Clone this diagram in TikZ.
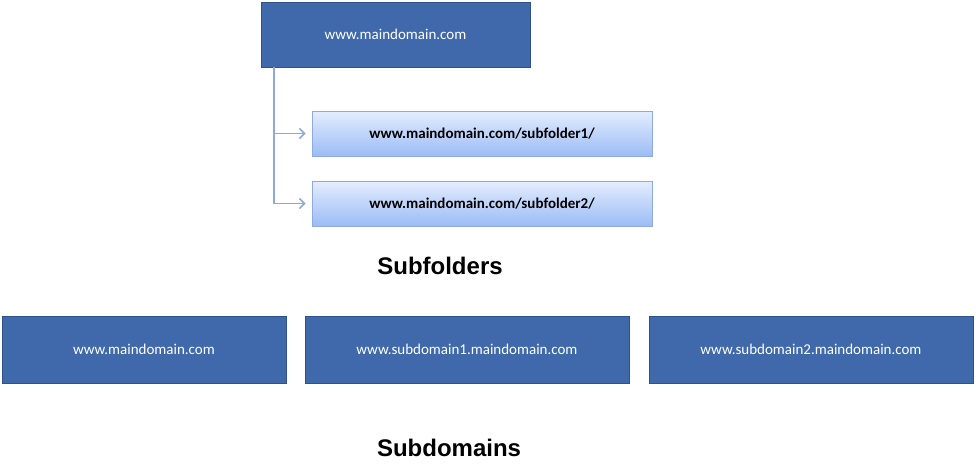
\documentclass[tikz,border=0pt]{standalone}
\usepackage{fontspec}
\setmainfont{Carlito}
\newfontfamily\headfont{Liberation Sans}
\usetikzlibrary{arrows.meta}
\definecolor{dblue}{HTML}{3F69AA}
\definecolor{dborder}{HTML}{2F528F}
\definecolor{lblueA}{HTML}{E4EDFE}
\definecolor{lblueB}{HTML}{9BBCF5}
\definecolor{lborder}{HTML}{8FAADC}
\definecolor{conn}{HTML}{8EA9D8}
\begin{document}
\begin{tikzpicture}[x=1pt,y=-1pt,
  darkbox/.style={draw=dborder,fill=dblue,text=white,font=\fontsize{15}{18}\selectfont,line width=0.8pt},
  lightbox/.style={draw=lborder,top color=lblueA,bottom color=lblueB,text=black,font=\fontsize{15}{18}\selectfont\bfseries,line width=0.8pt},
  heading/.style={font=\headfont\bfseries\fontsize{24}{28}\selectfont},
  link/.style={draw=conn,line width=1.6pt,-{Straight Barb[length=5pt,width=10pt]}}]
\useasboundingbox (0,0) rectangle (976,475);
\node[darkbox,minimum width=269pt,minimum height=65pt] (main) at (395.5,34.5) {www.maindomain.com};
\node[lightbox,minimum width=340pt,minimum height=45pt] (sf1) at (482,133.5) {www.maindomain.com/subfolder1/};
\node[lightbox,minimum width=340pt,minimum height=45pt] (sf2) at (482,203.5) {www.maindomain.com/subfolder2/};
\coordinate (j) at (274,67);
\draw[draw=conn,line width=1.6pt] (j) -- (274,203.5);
\draw[link] (274,133.5) -- ([xshift=-6pt]sf1.west);
\draw[link] (274,203.5) -- ([xshift=-6pt]sf2.west);
\node[heading] (h1) at (440,266) {Subfolders};
\node[darkbox,minimum width=284pt,minimum height=67pt] (b1) at (144,349.5) {www.maindomain.com};
\node[darkbox,minimum width=324pt,minimum height=67pt] (b2) at (467,349.5) {www.subdomain1.maindomain.com};
\node[darkbox,minimum width=324pt,minimum height=67pt] (b3) at (811,349.5) {www.subdomain2.maindomain.com};
\node[heading] (h2) at (449,448) {Subdomains};
\end{tikzpicture}
\end{document}
